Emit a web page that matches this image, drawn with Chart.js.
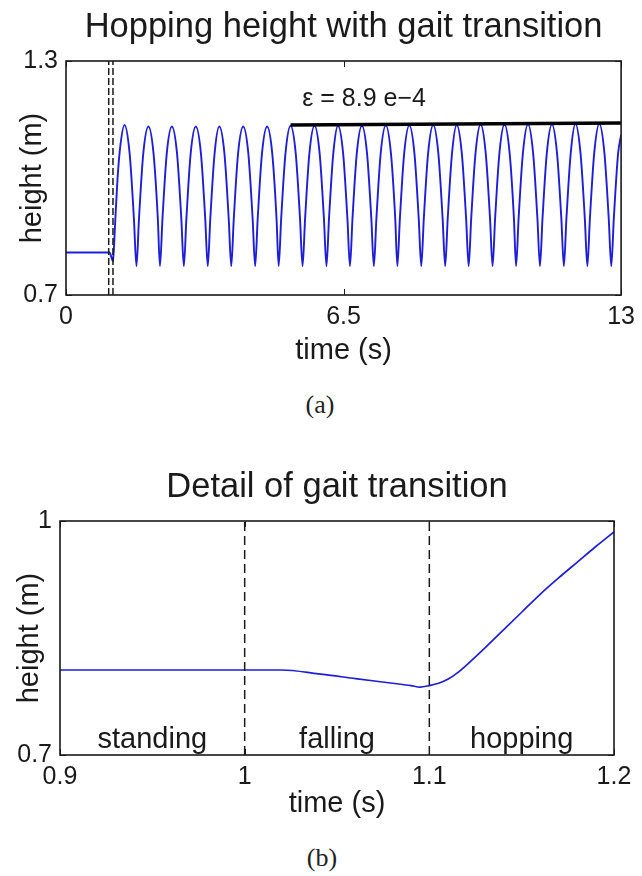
<!DOCTYPE html>
<html><head><meta charset="utf-8">
<script src="https://cdn.jsdelivr.net/npm/chart.js@4"></script>
<style>
body{margin:0;background:#fff;width:642px;height:876px;position:relative;overflow:hidden}
.wrap{position:absolute;left:0;width:642px;height:380px}
.cap{position:absolute;width:642px;left:0;text-align:center;font-family:"Liberation Serif","DejaVu Serif",serif;font-size:26px;color:#222;line-height:30px}
</style></head>
<body>
<div class="wrap" style="top:0"><canvas id="ca" width="642" height="380"></canvas></div>
<div class="wrap" style="top:460px"><canvas id="cb" width="642" height="380"></canvas></div>
<div class="cap" style="top:390px;left:-1px">(a)</div>
<div class="cap" style="top:843px;left:1px">(b)</div>
<script>
// ---- data: panel (a) hopping height over whole run ----
const timeA = [
  0, 1.0, 1.02, 1.06, 1.095, 1.1, 1.12, 1.15, 1.2, 1.26,
  1.37, 1.49, 1.59, 1.65, 1.71, 1.81,
  1.93, 2.05, 2.15, 2.20, 2.26, 2.36,
  2.48, 2.60, 2.70, 2.76, 2.82, 2.92,
  3.04, 3.16, 3.26, 3.32, 3.38, 3.48,
  3.59, 3.71, 3.81, 3.87, 3.93, 4.03,
  4.15, 4.27, 4.37, 4.43, 4.49, 4.59,
  4.71, 4.83, 4.93, 4.98, 5.04, 5.14,
  5.26, 5.38, 5.48, 5.54, 5.60, 5.70,
  5.82, 5.94, 6.04, 6.10, 6.16, 6.26,
  6.37, 6.49, 6.59, 6.65, 6.71, 6.81,
  6.93, 7.05, 7.15, 7.21, 7.27, 7.37,
  7.49, 7.61, 7.71, 7.76, 7.82, 7.92,
  8.04, 8.16, 8.26, 8.32, 8.38, 8.48,
  8.60, 8.72, 8.82, 8.88, 8.94, 9.04,
  9.15, 9.27, 9.37, 9.43, 9.49, 9.59,
  9.71, 9.83, 9.93, 9.99, 10.05, 10.15,
  10.27, 10.39, 10.49, 10.54, 10.60, 10.70,
  10.82, 10.94, 11.04, 11.10, 11.16, 11.26,
  11.38, 11.50, 11.60, 11.66, 11.72, 11.82,
  11.93, 12.05, 12.15, 12.21, 12.27, 12.37,
  12.49, 12.61, 12.71, 12.77, 12.83, 12.93,
  13.0
];
const heightA = [
  0.809, 0.809, 0.809, 0.798, 0.787, 0.789, 0.815, 0.883, 0.986, 1.070,
  1.136, 1.063, 0.897, 0.774, 0.897, 1.063,
  1.132, 1.063, 0.897, 0.774, 0.897, 1.063,
  1.132, 1.063, 0.897, 0.774, 0.897, 1.063,
  1.132, 1.063, 0.897, 0.774, 0.897, 1.063,
  1.132, 1.063, 0.897, 0.774, 0.897, 1.063,
  1.132, 1.063, 0.897, 0.774, 0.897, 1.063,
  1.132, 1.063, 0.897, 0.774, 0.897, 1.063,
  1.134, 1.063, 0.897, 0.774, 0.897, 1.063,
  1.134, 1.063, 0.897, 0.774, 0.897, 1.063,
  1.134, 1.063, 0.897, 0.774, 0.897, 1.063,
  1.134, 1.063, 0.897, 0.774, 0.897, 1.063,
  1.135, 1.063, 0.897, 0.774, 0.897, 1.063,
  1.135, 1.063, 0.897, 0.774, 0.897, 1.063,
  1.136, 1.063, 0.897, 0.774, 0.897, 1.063,
  1.136, 1.063, 0.897, 0.774, 0.897, 1.063,
  1.137, 1.063, 0.897, 0.774, 0.897, 1.063,
  1.137, 1.063, 0.897, 0.774, 0.897, 1.063,
  1.138, 1.063, 0.897, 0.774, 0.897, 1.063,
  1.138, 1.063, 0.897, 0.774, 0.897, 1.063,
  1.139, 1.063, 0.897, 0.774, 0.897, 1.063,
  1.139, 1.063, 0.897, 0.774, 0.897, 1.063,
  1.110
];
const envelopeTime = [5.26, 13.0];
const envelopeHeight = [1.136, 1.141];
const switchTimes = [1.0, 1.1];
const xTicksA = [0, 6.5, 13];
const yTicksA = [0.7, 1.3];

// ---- data: panel (b) detail of the transition ----
const timeB = [0.9, 1.0, 1.02, 1.04, 1.06, 1.08, 1.09, 1.095, 1.1, 1.105, 1.11, 1.115, 1.12, 1.13, 1.14, 1.15, 1.16, 1.17, 1.18, 1.19, 1.2];
const heightB = [0.809, 0.809, 0.809, 0.804, 0.798, 0.792, 0.789, 0.787, 0.789, 0.792, 0.797, 0.805, 0.815, 0.837, 0.860, 0.883, 0.906, 0.927, 0.947, 0.967, 0.986];
const xTicksB = [0.9, 1, 1.1, 1.2];
const yTicksB = [0.7, 1];
const phaseNames = ['standing', 'falling', 'hopping'];
const phaseCenters = [0.95, 1.05, 1.15];

// ---- styling ----
const SANS = '"Liberation Sans", Arial, Helvetica, sans-serif';
const BLUE = 'rgb(30,30,215)';
const INK = '#1a1a1a';

const pts = (xs, ys) => xs.map((v, i) => ({x: v, y: ys[i]}));

const boxPlugin = {
  id: 'box',
  afterDatasetsDraw(chart) {
    const {ctx, chartArea: a, scales: {x, y}} = chart;
    ctx.save();
    ctx.strokeStyle = INK;
    ctx.lineWidth = 1;
    ctx.beginPath();
    x.ticks.forEach(t => {
      const px = Math.round(x.getPixelForValue(t.value)) + 0.5;
      ctx.moveTo(px, a.bottom); ctx.lineTo(px, a.bottom - 6);
      ctx.moveTo(px, a.top); ctx.lineTo(px, a.top + 6);
    });
    y.ticks.forEach(t => {
      const py = Math.round(y.getPixelForValue(t.value)) + 0.5;
      ctx.moveTo(a.left, py); ctx.lineTo(a.left + 6, py);
      ctx.moveTo(a.right, py); ctx.lineTo(a.right - 6, py);
    });
    ctx.stroke();
    ctx.lineWidth = 1.6;
    ctx.strokeRect(a.left, a.top, a.right - a.left, a.bottom - a.top);
    ctx.restore();
  }
};

function notesPlugin(items) {
  return {
    id: 'notes',
    afterDatasetsDraw(chart) {
      const {ctx, scales: {x, y}} = chart;
      items.forEach(n => {
        ctx.save();
        ctx.font = n.size + 'px ' + SANS;
        ctx.fillStyle = INK;
        ctx.textAlign = 'center';
        ctx.textBaseline = n.baseline;
        ctx.fillText(n.text, x.getPixelForValue(n.x), y.getPixelForValue(n.y));
        ctx.restore();
      });
    }
  };
}

function makeChart(id, c) {
  const tickFont = {family: SANS, size: 25};
  const labelFont = {family: SANS, size: 29};
  return new Chart(document.getElementById(id), {
    type: 'line',
    data: {datasets: c.datasets},
    options: {
      responsive: false, animation: false, devicePixelRatio: 1,
      layout: {autoPadding: false, padding: {left: 0, right: c.padRight, top: 0, bottom: 0}},
      elements: {point: {radius: 0}},
      plugins: {
        legend: {display: false}, tooltip: {enabled: false},
        title: {display: true, fullSize: false, text: c.title, color: INK,
          font: {family: SANS, size: 34.5, weight: 'normal'}, padding: {top: 6.5, bottom: 13.1}}
      },
      scales: {
        x: {
          type: 'linear', min: c.xMin, max: c.xMax,
          afterBuildTicks: s => { s.ticks = c.xTicks.map(v => ({value: v})); },
          afterFit: s => { s.height = 85; },
          grid: {display: false, drawTicks: false}, border: {display: false},
          ticks: {padding: 7, color: INK, font: tickFont, maxRotation: 0, callback: v => String(v)},
          title: {display: true, text: 'time (s)', color: INK, font: labelFont, padding: {top: 0, bottom: c.xTitlePad}}
        },
        y: {
          type: 'linear', min: c.yMin, max: c.yMax,
          afterBuildTicks: s => { s.ticks = c.yTicks.map(v => ({value: v})); },
          afterFit: s => { s.width = c.left; },
          grid: {display: false, drawTicks: false}, border: {display: false},
          ticks: {padding: 8, color: INK, font: tickFont, callback: v => String(v)},
          title: {display: true, text: 'height (m)', color: INK, font: labelFont, padding: {top: c.yTitlePad, bottom: 0}}
        }
      }
    },
    plugins: [boxPlugin, notesPlugin(c.notes)]
  });
}

const dashed = (t, y0, y1, dash) => ({
  data: [{x: t, y: y0}, {x: t, y: y1}], borderColor: INK, borderWidth: 1.5,
  borderDash: dash, tension: 0, order: 1
});

makeChart('ca', {
  title: 'Hopping height with gait transition',
  xMin: 0, xMax: 13, yMin: 0.7, yMax: 1.3, xTicks: xTicksA, yTicks: yTicksA,
  left: 66, padRight: 17, xTitlePad: 11.6, yTitlePad: 15.6,
  datasets: [
    {data: pts(envelopeTime, envelopeHeight), borderColor: '#000', borderWidth: 3.5, tension: 0, order: 0},
    ...switchTimes.map(t => dashed(t, yTicksA[0], yTicksA[1], [7, 3])),
    {data: pts(timeA, heightA), borderColor: BLUE, borderWidth: 1.9, cubicInterpolationMode: 'monotone', order: 2}
  ],
  notes: [{text: 'ε = 8.9 e\u22124', x: 6.98, y: 1.203, size: 25, baseline: 'middle'}]
});

makeChart('cb', {
  title: 'Detail of gait transition',
  xMin: 0.9, xMax: 1.2, yMin: 0.7, yMax: 1.0, xTicks: xTicksB, yTicks: yTicksB,
  left: 60, padRight: 28, xTitlePad: 18.5, yTitlePad: 12.6,
  datasets: [
    ...switchTimes.map(t => dashed(t, yTicksB[0], yTicksB[1], [9, 5])),
    {data: pts(timeB, heightB), borderColor: BLUE, borderWidth: 1.7, cubicInterpolationMode: 'monotone', order: 2}
  ],
  notes: phaseNames.map((n, i) => ({text: n, x: phaseCenters[i], y: 0.709, size: 29, baseline: 'alphabetic'}))
});
</script>
</body></html>
